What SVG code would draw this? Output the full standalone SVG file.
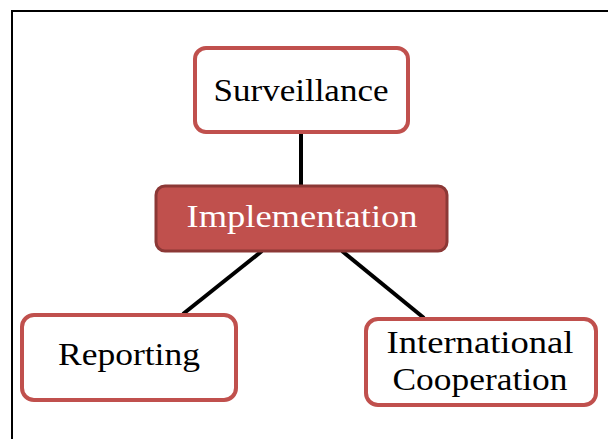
<svg xmlns="http://www.w3.org/2000/svg" width="608" height="439" viewBox="0 0 608 439">
<style>
.box{fill:#ffffff;stroke:#c0504d;stroke-width:4}
.main{fill:#c0504d;stroke:#8c3836;stroke-width:3}
.t{font-family:"Liberation Serif","DejaVu Serif",serif;font-size:31px;fill:#000000;text-anchor:middle}
.tw{font-family:"Liberation Serif","DejaVu Serif",serif;font-size:31px;fill:#ffffff;text-anchor:middle}
.c{stroke:#000000;stroke-width:4;fill:none}
</style>
<rect x="0" y="0" width="608" height="439" fill="#ffffff"/>
<rect x="12" y="11" width="610" height="440" fill="none" stroke="#000000" stroke-width="2"/>
<g id="connectors">
<line class="c" x1="301" y1="133" x2="301" y2="186"/>
<line class="c" x1="262" y1="251" x2="183" y2="314"/>
<line class="c" x1="342" y1="251" x2="424" y2="318"/>
</g>
<g id="surveillance">
<rect class="box" x="195" y="48" width="213" height="84" rx="11"/>
<text class="t" x="301" y="101" textLength="175" lengthAdjust="spacingAndGlyphs">Surveillance</text>
</g>
<g id="implementation">
<rect class="main" x="156" y="186" width="291" height="65" rx="9"/>
<text class="tw" x="302" y="227" textLength="231" lengthAdjust="spacingAndGlyphs">Implementation</text>
</g>
<g id="reporting">
<rect class="box" x="22" y="315" width="214" height="85" rx="12"/>
<text class="t" x="129" y="365" textLength="142" lengthAdjust="spacingAndGlyphs">Reporting</text>
</g>
<g id="international">
<rect class="box" x="366" y="319" width="230" height="86" rx="12"/>
<text class="t" x="480" y="353" textLength="187" lengthAdjust="spacingAndGlyphs">International</text>
<text class="t" x="480" y="390" textLength="175" lengthAdjust="spacingAndGlyphs">Cooperation</text>
</g>
</svg>
